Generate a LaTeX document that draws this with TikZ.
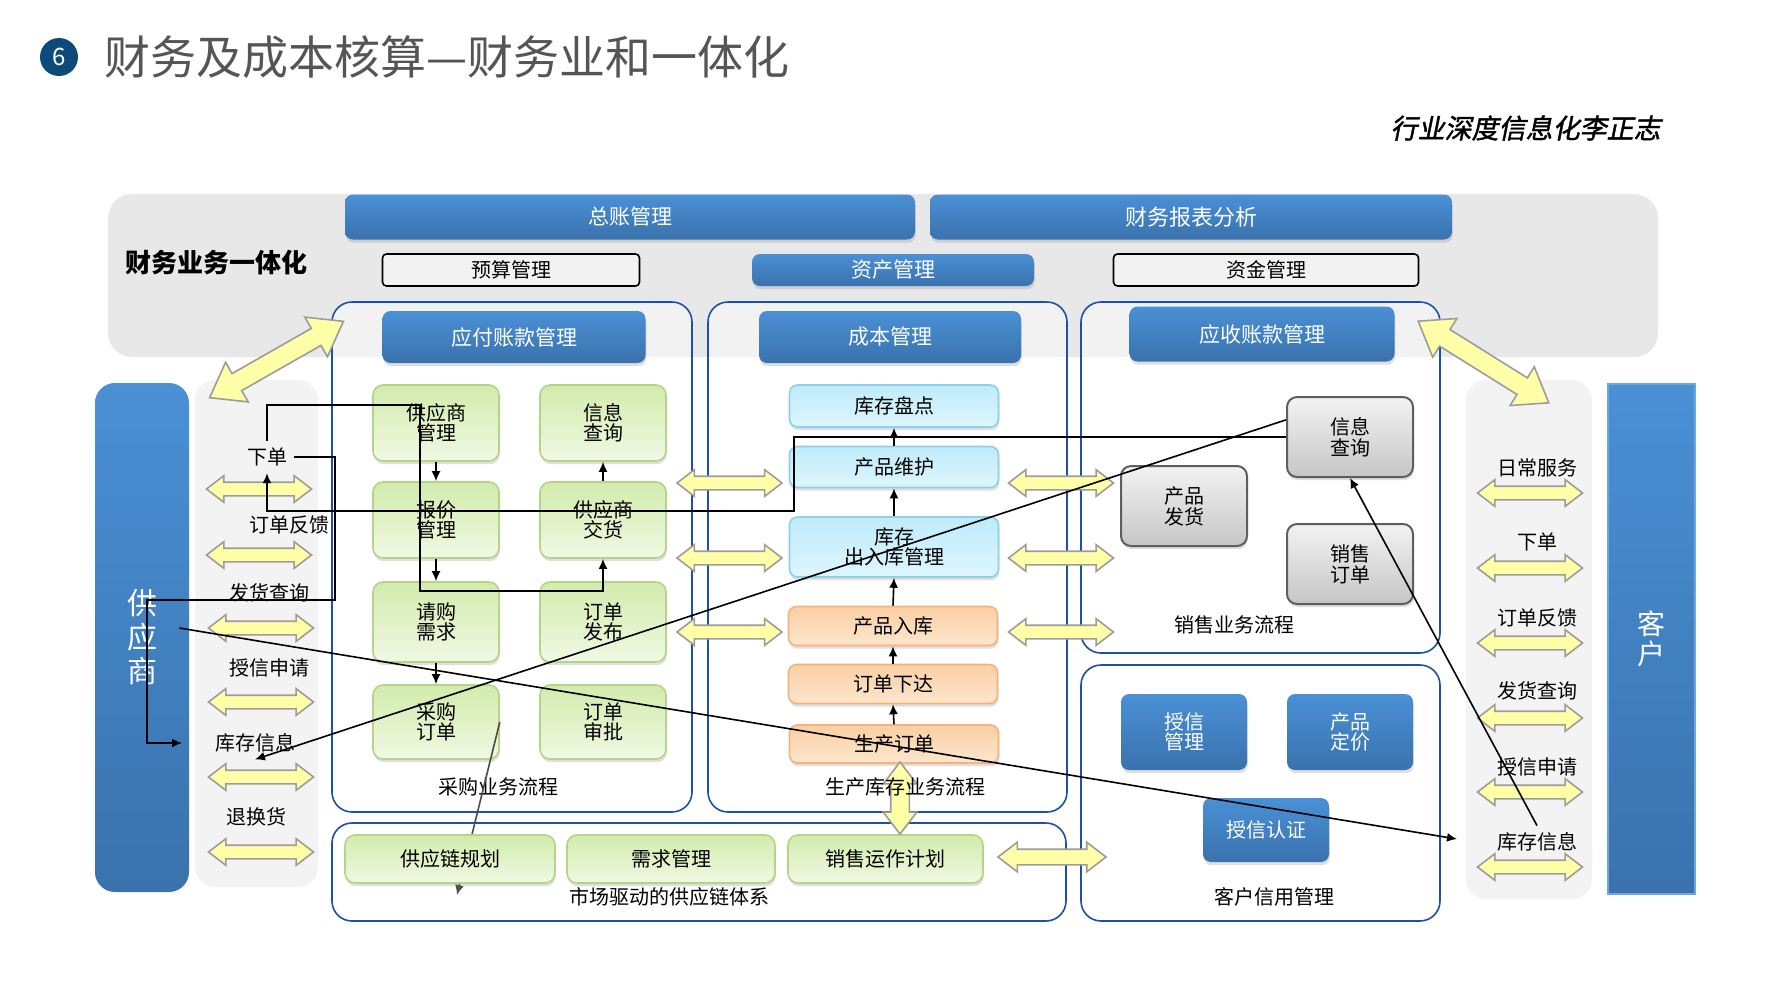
\documentclass[tikz,border=0pt]{standalone}
\usepackage{fontspec}
\setmainfont{Noto Sans CJK SC}
\newfontfamily\slantfont{Noto Sans CJK SC}[FakeSlant=0.2,FakeBold=1.5]
\usepackage{tikz}
\usetikzlibrary{arrows.meta,positioning,shapes.arrows,shadows}
\definecolor{navy}{HTML}{0D4A7C}
\definecolor{titlegray}{HTML}{555555}
\definecolor{bandgray}{HTML}{E8E8E8}
\definecolor{panelgray}{HTML}{F3F3F3}
\definecolor{blueTop}{HTML}{4A90D5}
\definecolor{blueBot}{HTML}{3A72AD}
\definecolor{frameblue}{HTML}{1D50A8}
\definecolor{greenTop}{HTML}{D2EBAC}
\definecolor{greenBot}{HTML}{F0F9E3}
\definecolor{greenLine}{HTML}{B5D48A}
\definecolor{cyanTop}{HTML}{BFEBFA}
\definecolor{cyanBot}{HTML}{DDF6FE}
\definecolor{cyanLine}{HTML}{8ECFE9}
\definecolor{orangeTop}{HTML}{FACFA3}
\definecolor{orangeBot}{HTML}{FDE6CD}
\definecolor{orangeLine}{HTML}{F4B27C}
\definecolor{grayTop}{HTML}{F2F2F2}
\definecolor{grayBot}{HTML}{C6C6C6}
\definecolor{grayLine}{HTML}{5E5E5E}
\definecolor{arrowFill}{HTML}{FFFFA8}
\definecolor{arrowLine}{HTML}{9C9C9C}

\begin{document}
\begin{tikzpicture}[
  x=0.5pt, y=-0.5pt,
  shade/.style={drop shadow={opacity=0.25, shadow xshift=0.4pt, shadow yshift=-1.6pt}},
  bluebox/.style={rounded corners=4pt, top color=blueTop, bottom color=blueBot, text=white, align=center, inner sep=0pt, shade, font=\fontsize{10.5}{11}\selectfont},
  greenbox/.style={rounded corners=5pt, top color=greenTop, bottom color=greenBot, draw=greenLine, line width=0.8pt, align=center, inner sep=0pt, shade, font=\fontsize{10}{10}\selectfont},
  cyanbox/.style={rounded corners=4pt, top color=cyanTop, bottom color=cyanBot, draw=cyanLine, line width=0.8pt, align=center, inner sep=0pt, shade, font=\fontsize{10}{10}\selectfont, minimum width=104.5pt},
  orangebox/.style={cyanbox, top color=orangeTop, bottom color=orangeBot, draw=orangeLine},
  graybox/.style={rounded corners=5pt, top color=grayTop, bottom color=grayBot, draw=grayLine, line width=1pt, align=center, inner sep=0pt, shade, minimum width=63pt, minimum height=40pt, font=\fontsize{10}{10.5}\selectfont},
  plainbox/.style={rounded corners=2pt, fill=white!45!bandgray, draw=black, line width=0.8pt, inner sep=0pt, minimum height=16pt, font=\fontsize{10}{11}\selectfont},
  procframe/.style={draw=frameblue, line width=0.8pt, rounded corners=10pt, fill=white, fill opacity=0.45, inner sep=0pt},
  panel/.style={fill=panelgray, rounded corners=10pt, inner sep=0pt},
  yarrow/.style={double arrow, draw=arrowLine, fill=arrowFill, line width=0.8pt, inner xsep=0pt, inner ysep=3pt, minimum width=12.5pt, double arrow head extend=3.25pt, double arrow tip angle=75, minimum height=52.5pt},
  bigarrow/.style={yarrow, inner ysep=4.5pt, minimum width=22pt, double arrow head extend=6.5pt, double arrow tip angle=72, minimum height=77pt},
  conn/.style={-{Latex[length=5pt,width=4.5pt]}, line width=0.8pt, black},
  lbl/.style={font=\fontsize{10}{12}\selectfont}
]
  \useasboundingbox (0,0) rectangle (1778,982);
  \fill[white] (0,0) rectangle (1778,982);

  \node[circle, fill=navy, text=white, minimum size=19pt, inner sep=0pt, font=\fontsize{12}{12}\selectfont] (num) at (59,57) {6};
  \node[anchor=west, text=titlegray, inner sep=0pt, font=\fontsize{23}{26}\selectfont] (title) at (104,57) {财务及成本核算—财务业和一体化};
  \node[anchor=east, inner sep=0pt, font=\fontsize{13.5}{15}\slantfont] (author) at (1661,128) {行业深度信息化李正志};

  \node[fill=bandgray, rounded corners=12pt, inner sep=0pt, minimum width=775pt, minimum height=81.5pt] (band) at (883,275.5) {};
  \node[font=\fontsize{13}{15}\selectfont\bfseries] (bandlbl) at (216,263) {财务业务一体化};

  \node[procframe, minimum width=180pt, minimum height=255pt] (purchase) at (512,557) {};
  \node[procframe, minimum width=179.5pt, minimum height=255pt] (production) at (887.5,557) {};
  \node[procframe, minimum width=179.5pt, minimum height=175.5pt] (sales) at (1260.5,477.5) {};
  \node[procframe, minimum width=179.5pt, minimum height=128pt] (credit) at (1260.5,793) {};
  \node[procframe, minimum width=367pt, minimum height=49pt] (supply) at (699,872) {};

  \node[bluebox, minimum width=285pt, minimum height=22.5pt] (ledger) at (630,217) {总账管理};
  \node[bluebox, minimum width=261pt, minimum height=22.5pt, font=\fontsize{11}{12}\selectfont] (report) at (1191,217) {财务报表分析};
  \node[plainbox, minimum width=128.5pt] (budget) at (511,270) {预算管理};
  \node[bluebox, minimum width=141pt, minimum height=16pt] (asset) at (893,270) {资产管理};
  \node[plainbox, minimum width=152.5pt] (fund) at (1266,270) {资金管理};

  \node[bluebox, minimum width=131.5pt, minimum height=26pt] (payable) at (514,337) {应付账款管理};
  \node[bluebox, minimum width=131pt, minimum height=26pt] (cost) at (890,337) {成本管理};
  \node[bluebox, minimum width=132.5pt, minimum height=27.5pt] (receivable) at (1262,334) {应收账款管理};

  \node[panel, minimum width=61.5pt, minimum height=253.5pt] (lpanel) at (256.5,633.5) {};
  \node[panel, minimum width=63pt, minimum height=259.5pt] (rpanel) at (1529,639.5) {};
  \node[rounded corners=10pt, top color=blueTop, bottom color=blueBot, text=white, align=center, inner sep=0pt, minimum width=47pt, minimum height=254.5pt, font=\fontsize{15}{17}\selectfont] (supplier) at (142,637.5) {供\\应\\商};
  \node[top color=blueTop, bottom color=blueBot, draw=blueTop!80!white, line width=1pt, text=white, align=center, inner sep=0pt, minimum width=43.5pt, minimum height=255pt, font=\fontsize{14}{15}\selectfont] (customer) at (1651.5,639) {客\\户};

  \node[greenbox, minimum width=63pt, minimum height=38pt] (gysgl) at (436,423) {供应商\\管理};
  \node[greenbox, minimum width=63pt, minimum height=38pt] (pinfo) at (603,423) {信息\\查询};
  \node[greenbox, minimum width=63pt, minimum height=38pt] (bjgl) at (436,520) {报价\\管理};
  \node[greenbox, minimum width=63pt, minimum height=38pt] (gysjh) at (603,520) {供应商\\交货};
  \node[greenbox, minimum width=63pt, minimum height=40pt] (qgxq) at (436,622) {请购\\需求};
  \node[greenbox, minimum width=63pt, minimum height=40pt] (ddfb) at (603,622) {订单\\发布};
  \node[greenbox, minimum width=63pt, minimum height=37pt] (cgdd) at (436,722) {采购\\订单};
  \node[greenbox, minimum width=63pt, minimum height=37pt] (ddsp) at (603,722) {订单\\审批};
  \node[lbl] (cglbl) at (498,787) {采购业务流程};

  \node[cyanbox, minimum height=21pt] (kcpd) at (894,406) {库存盘点};
  \node[cyanbox, minimum height=20.5pt] (cpwh) at (894,467) {产品维护};
  \node[cyanbox, minimum height=30pt] (kccrk) at (894,547) {库存\\出入库管理};
  \node[orangebox, minimum height=19.5pt] (cprk) at (893,626) {产品入库};
  \node[orangebox, minimum height=19.5pt] (ddxd) at (893,684) {订单下达};
  \node[orangebox, minimum height=19pt] (scdd) at (894,744) {生产订单};

  \node[graybox] (sinfo) at (1350,437) {信息\\查询};
  \node[graybox] (cpfh) at (1184,506) {产品\\发货};
  \node[graybox] (xsdd) at (1350,564) {销售\\订单};
  \node[lbl] (xslbl) at (1234,625) {销售业务流程};

  \node[bluebox, minimum width=63pt, minimum height=38pt, font=\fontsize{10}{10}\selectfont] (sxgl) at (1184,732) {授信\\管理};
  \node[bluebox, minimum width=63pt, minimum height=38pt, font=\fontsize{10}{10}\selectfont] (cpdj) at (1350,732) {产品\\定价};
  \node[bluebox, minimum width=63pt, minimum height=32pt, font=\fontsize{10}{10}\selectfont] (sxrz) at (1266,830) {授信认证};
  \node[lbl] (xylbl) at (1274,897) {客户信用管理};

  \coordinate (k9) at (457,895);
  \draw[-{Latex[length=5pt,width=4.5pt]}, line width=0.8pt, black!70] (cgdd.east) -- (k9);

  \node[greenbox, minimum width=105pt, minimum height=24pt] (gylgh) at (450,859) {供应链规划};
  \node[greenbox, minimum width=104pt, minimum height=24pt] (xqgl) at (671,859) {需求管理};
  \node[greenbox, minimum width=97.5pt, minimum height=24pt] (xsyz) at (885.5,859) {销售运作计划};
  \node[lbl] (gyllbl) at (669,897) {市场驱动的供应链体系};

  \node[bigarrow, rotate=29.7] (lbig) at (276.5,359.5) {};
  \node[bigarrow, rotate=-32] (rbig) at (1483.5,362) {};

  \node[yarrow] (pm1) at (729.5,483) {};
  \node[yarrow] (pm2) at (729.5,558) {};
  \node[yarrow] (pm3) at (729.5,632) {};
  \node[yarrow] (ms1) at (1061,483) {};
  \node[yarrow] (ms2) at (1061,558) {};
  \node[yarrow] (ms3) at (1061,632) {};
  \node[yarrow, rotate=90, minimum height=36pt, inner ysep=4.25pt, minimum width=16pt, double arrow head extend=3.75pt] (vdown) at (900,798) {};
  \node[yarrow, minimum height=54pt, inner ysep=3.5pt, minimum width=14pt, double arrow head extend=3.5pt] (sc) at (1052,857) {};

  \node[lbl] (lxd) at (267,457) {下单};
  \node[yarrow] (la1) at (259,489) {};
  \node[lbl] (lfk) at (289,525) {订单反馈};
  \node[yarrow] (la2) at (259,555) {};
  \node[lbl] (lfh) at (269,593) {发货查询};
  \node[yarrow] (la3) at (261,628) {};
  \node[lbl] (lsx) at (269,668) {授信申请};
  \node[yarrow] (la4) at (261,702) {};
  \node[lbl] (lkc) at (255,743) {库存信息};
  \node[yarrow] (la5) at (261,777) {};
  \node[lbl] (lth) at (256,817) {退换货};
  \node[yarrow] (la6) at (261,852) {};

  \node[lbl] (rrc) at (1537,468) {日常服务};
  \node[yarrow] (ra1) at (1530,493) {};
  \node[lbl] (rxd) at (1537,542) {下单};
  \node[yarrow] (ra2) at (1530,568) {};
  \node[lbl] (rfk) at (1537,618) {订单反馈};
  \node[yarrow] (ra3) at (1530,643) {};
  \node[lbl] (rfh) at (1537,691) {发货查询};
  \node[yarrow] (ra4) at (1530,718) {};
  \node[lbl] (rsx) at (1537,767) {授信申请};
  \node[yarrow] (ra5) at (1530,792) {};
  \node[lbl] (rkc) at (1537,842) {库存信息};
  \node[yarrow] (ra6) at (1530,867) {};

  \node[lbl] (sclbl) at (905,787) {生产库存业务流程};

  \draw[conn] (gysgl.south) -- (bjgl.north);
  \draw[conn] (bjgl.south) -- (qgxq.north);
  \draw[conn] (qgxq.south) -- (cgdd.north);
  \draw[conn] (gysjh.north) -- (pinfo.south);

  \draw[conn] (scdd.north) -- (ddxd.south);
  \draw[conn] (ddxd.north) -- (cprk.south);
  \draw[conn] (cprk.north) -- (kccrk.south);
  \draw[conn] (kccrk.north) -- (cpwh.south);
  \draw[conn] (cpwh.north) -- (kcpd.south);

  \coordinate (k1) at (420,405);
  \coordinate (k2) at (420,591);
  \draw[conn] (lxd.north) |- (k1) -- (k2) -| (gysjh.south);

  \coordinate (k3) at (335,600);
  \coordinate (k4) at (147,600);
  \coordinate (k5) at (182,743);
  \draw[conn] (lxd.east) -| (k3) -- (k4) |- (k5);

  \coordinate (k6) at (794,511);
  \draw[conn] (sinfo.west) -| (k6) -| (lxd.south);

  \draw[conn] (sinfo.165) -- (lkc.south);

  \coordinate (k7) at (1457,839);
  \draw[conn] ([xshift=-5pt,yshift=4.75pt]supplier.east) -- (k7);

  \draw[conn] (rkc.north) -- (sinfo.south);
\end{tikzpicture}
\end{document}
